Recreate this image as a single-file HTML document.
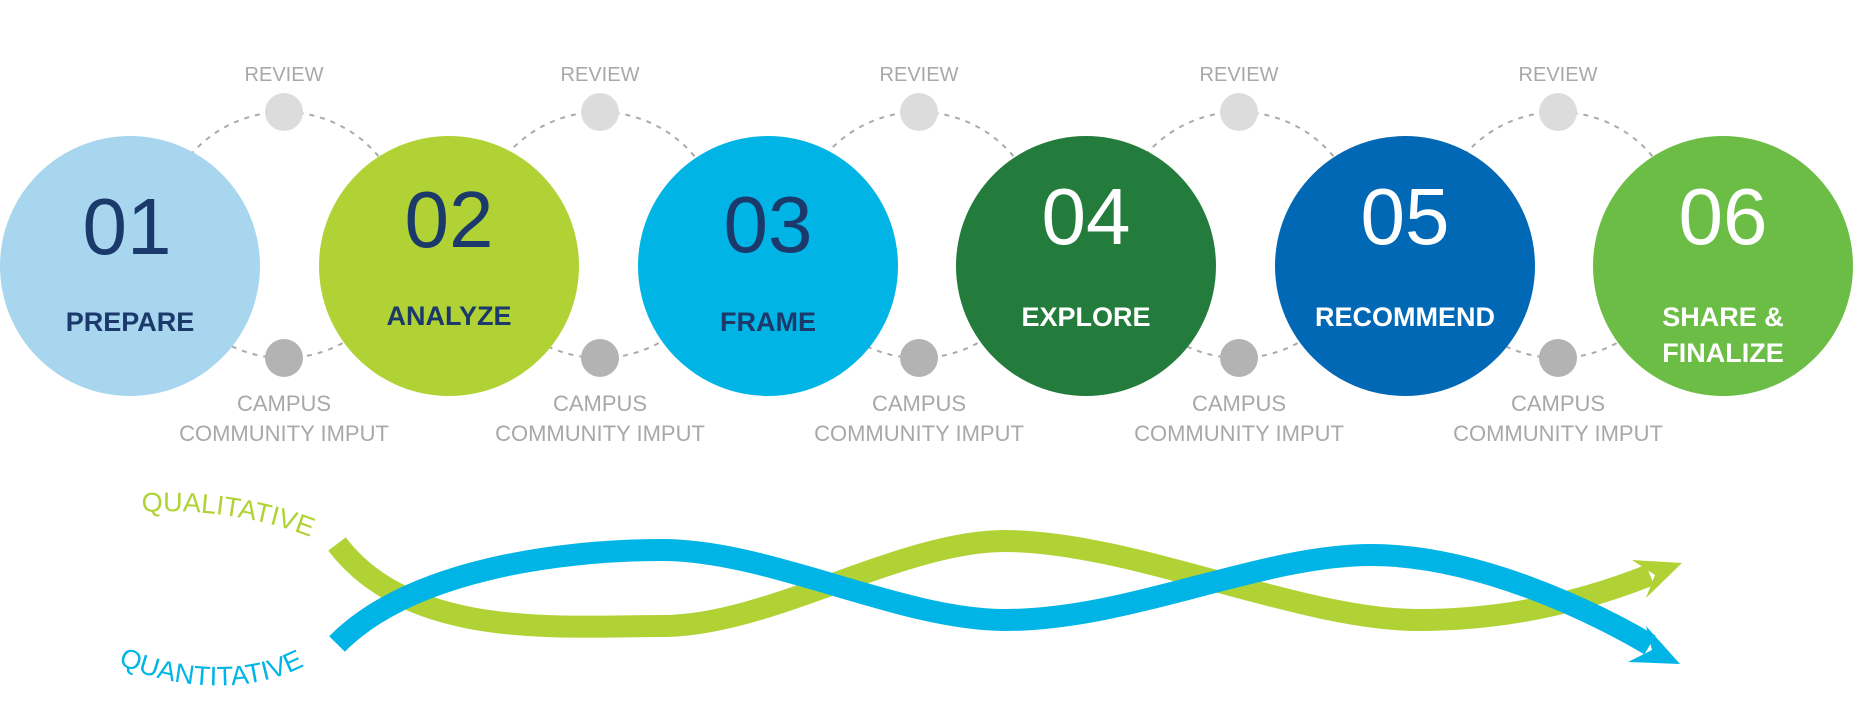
<!DOCTYPE html>
<html><head><meta charset="utf-8"><style>
html,body{margin:0;padding:0;background:#fff;}
svg{display:block;}
</style></head><body>
<svg width="1853" height="722" viewBox="0 0 1853 722" xmlns="http://www.w3.org/2000/svg" font-family="Liberation Sans, sans-serif">
<g fill="none" stroke="#aaa" stroke-width="2" stroke-dasharray="5,6">
<circle cx="284" cy="235" r="123"/>
<circle cx="600" cy="235" r="123"/>
<circle cx="919" cy="235" r="123"/>
<circle cx="1239" cy="235" r="123"/>
<circle cx="1558" cy="235" r="123"/>
</g>
<g fill="#dcdcdc">
<circle cx="284" cy="112" r="19"/><circle cx="600" cy="112" r="19"/><circle cx="919" cy="112" r="19"/><circle cx="1239" cy="112" r="19"/><circle cx="1558" cy="112" r="19"/>
</g>
<g fill="#b3b3b3">
<circle cx="284" cy="358" r="19"/><circle cx="600" cy="358" r="19"/><circle cx="919" cy="358" r="19"/><circle cx="1239" cy="358" r="19"/><circle cx="1558" cy="358" r="19"/>
</g>
<g fill="#a8a8a8" font-size="20" text-anchor="middle">
<text x="284" y="81">REVIEW</text><text x="600" y="81">REVIEW</text><text x="919" y="81">REVIEW</text><text x="1239" y="81">REVIEW</text><text x="1558" y="81">REVIEW</text>
</g>
<g fill="#a8a8a8" font-size="22" text-anchor="middle">
<text x="284" y="411">CAMPUS</text><text x="284" y="441">COMMUNITY IMPUT</text>
<text x="600" y="411">CAMPUS</text><text x="600" y="441">COMMUNITY IMPUT</text>
<text x="919" y="411">CAMPUS</text><text x="919" y="441">COMMUNITY IMPUT</text>
<text x="1239" y="411">CAMPUS</text><text x="1239" y="441">COMMUNITY IMPUT</text>
<text x="1558" y="411">CAMPUS</text><text x="1558" y="441">COMMUNITY IMPUT</text>
</g>
<circle cx="130" cy="266" r="130" fill="#a7d6ee"/>
<circle cx="449" cy="266" r="130" fill="#b0d235"/>
<circle cx="768" cy="266" r="130" fill="#00b5e5"/>
<circle cx="1086" cy="266" r="130" fill="#237c3c"/>
<circle cx="1405" cy="266" r="130" fill="#0068b4"/>
<circle cx="1723" cy="266" r="130" fill="#6cbd45"/>
<g font-size="80" text-anchor="middle">
<text x="127" y="254" fill="#1b3a6b">01</text>
<text x="449" y="247" fill="#1b3a6b">02</text>
<text x="768" y="252" fill="#1b3a6b">03</text>
<text x="1086" y="244" fill="#fff">04</text>
<text x="1405" y="244" fill="#fff">05</text>
<text x="1723" y="244" fill="#fff">06</text>
</g>
<g font-size="27" font-weight="bold" text-anchor="middle">
<text x="130" y="331" fill="#1b3a6b">PREPARE</text>
<text x="449" y="325" fill="#1b3a6b">ANALYZE</text>
<text x="768" y="331" fill="#1b3a6b">FRAME</text>
<text x="1086" y="326" fill="#fff">EXPLORE</text>
<text x="1405" y="326" fill="#fff">RECOMMEND</text>
<text x="1723" y="326" fill="#fff">SHARE &amp;</text>
<text x="1723" y="362" fill="#fff">FINALIZE</text>
</g>
<path d="M337,544 C410,640 560,626 662,626 C770,626 900,541 1005,541 C1130,541 1300,620 1418,620 C1520,620 1600,595 1650,575" fill="none" stroke="#b0d235" stroke-width="22"/>
<polygon points="1682,563 1632,560 1655,575 1646,598" fill="#b0d235"/>
<path d="M337,644 C410,570 560,550 662,550 C770,550 900,620 1005,620 C1130,620 1260,555 1371,555 C1480,555 1600,615 1650,645" fill="none" stroke="#00b5e5" stroke-width="22"/>
<polygon points="1680,664 1646,626 1652,650 1628,662" fill="#00b5e5"/>
<defs>
<path id="qp" d="M142,512 C210,508 280,520 340,550"/>
<path id="np" d="M118,664 C200,700 290,690 340,640"/>
</defs>
<text font-size="27" fill="#b0d235"><textPath href="#qp">QUALITATIVE</textPath></text>
<text font-size="27" fill="#00b5e5"><textPath href="#np">QUANTITATIVE</textPath></text>
</svg>
</body></html>
